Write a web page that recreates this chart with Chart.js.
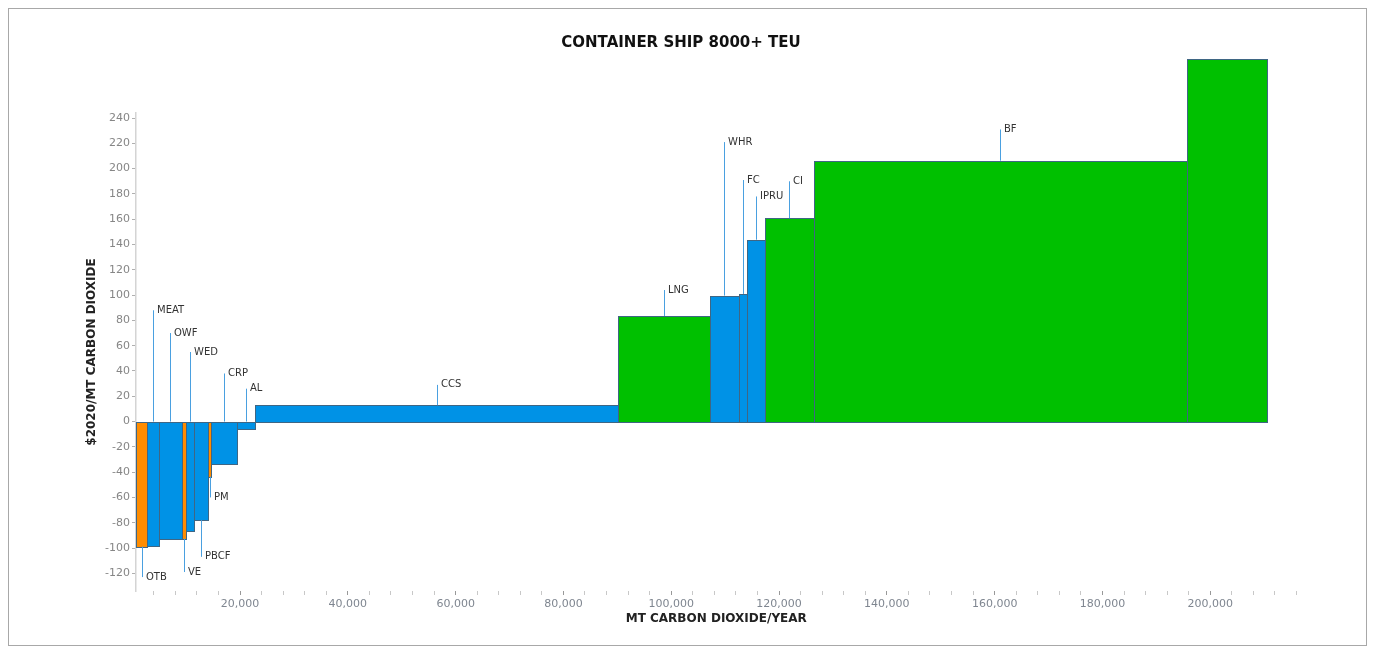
<!DOCTYPE html>
<html>
<head>
<meta charset="utf-8">
<script src="https://cdn.jsdelivr.net/npm/chart.js@4.4.1/dist/chart.umd.min.js"></script>
<style>
body { margin: 0; background: #fff; }
</style>
</head>
<body>
<canvas id="macc" width="1375" height="653"></canvas>
<script>
// abatement measures, left to right along the curve
var measures = ["OTB", "MEAT", "OWF", "VE", "WED", "PBCF", "PM", "CRP", "AL", "CCS", "LNG", "WHR", "FC", "IPRU", "CI", "BF", ""]
// width of each block: MT CO2 abated per year
var abatement = [2050, 2150, 4250, 750, 1550, 2600, 650, 4700, 3400, 67400, 16900, 5500, 1400, 3400, 9000, 69300, 14800]
// height of each block: $2020 per MT CO2
var cost = [-98.9, -98.1, -92.6, -92.6, -86.3, -78, -43.6, -33.5, -6.1, 12.9, 83.5, 99.6, 100.9, 143.8, 160.8, 206.3, 286.7]
var group = ["o", "b", "b", "o", "b", "b", "o", "b", "b", "b", "g", "b", "b", "b", "g", "g", "g"]
// where each callout label sits on the cost axis
var labelAt = [-123, 88, 70, -119, 55, -107, -60, 38, 26, 29, 104, 221, 191, 178, 190, 231, null]
var xStart = 700

var yTicks = [-120, -100, -80, -60, -40, -20, 0, 20, 40, 60, 80, 100, 120, 140, 160, 180, 200, 220, 240]
var xTickStep = 4000
var xLabelStep = 20000

var colors = { o: "#ff8c00", b: "#0092e6", g: "#00c000" }

var frame = {
    id: "frame",
    beforeDraw: function (chart) {
        var ctx = chart.ctx
        ctx.save()
        ctx.fillStyle = "#fff"
        ctx.fillRect(0, 0, chart.width, chart.height)
        ctx.strokeStyle = "#a8a8a8"
        ctx.lineWidth = 1
        ctx.strokeRect(8.5, 8.5, chart.width - 17, chart.height - 16)
        ctx.restore()
    }
}

var maccBars = {
    id: "maccBars",
    afterDatasetsDraw: function (chart) {
        var ctx = chart.ctx
        var xs = chart.scales.x
        var ys = chart.scales.y
        var y0 = Math.round(ys.getPixelForValue(0))
        var left = xStart
        var mids = []
        ctx.save()
        ctx.lineWidth = 1
        for (var i = 0; i < cost.length; i++) {
            var x0 = Math.round(xs.getPixelForValue(left))
            var x1 = Math.round(xs.getPixelForValue(left + abatement[i]))
            var yv = Math.round(ys.getPixelForValue(cost[i]))
            var top = Math.min(y0, yv)
            var h = Math.abs(yv - y0)
            ctx.fillStyle = colors[group[i]]
            ctx.fillRect(x0, top, x1 - x0, h)
            ctx.strokeStyle = "#3f6684"
            ctx.strokeRect(x0 + 0.5, top + 0.5, x1 - x0, h)
            mids.push(xs.getPixelForValue(left + abatement[i] / 2))
            left += abatement[i]
        }

        // callout lines and names
        ctx.font = "10px 'DejaVu Sans'"
        ctx.textAlign = "left"
        ctx.textBaseline = "middle"
        for (var i = 0; i < measures.length; i++) {
            if (labelAt[i] == null) continue
            var from = labelAt[i] > 0 ? Math.max(cost[i], 0) : Math.min(cost[i], 0)
            var lx = Math.round(mids[i]) + 0.5
            var ya = ys.getPixelForValue(from)
            var yb = ys.getPixelForValue(labelAt[i])
            ctx.strokeStyle = "#4aa0e0"
            ctx.beginPath()
            ctx.moveTo(lx, ya)
            ctx.lineTo(lx, yb)
            ctx.stroke()
            ctx.fillStyle = "#333"
            ctx.fillText(measures[i], lx + 3.5, yb)
        }
        ctx.restore()
    }
}

new Chart("macc", {
    type: "scatter",
    data: { datasets: [] },
    plugins: [frame, maccBars],
    options: {
        responsive: false,
        animation: false,
        devicePixelRatio: 1,
        layout: { padding: { left: 0, top: 0, bottom: 0, right: 13 } },
        plugins: {
            legend: { display: false },
            tooltip: { enabled: false },
            title: {
                display: true,
                text: "CONTAINER SHIP 8000+ TEU",
                color: "#111",
                font: { family: "DejaVu Sans", size: 15, weight: "bold" },
                padding: { top: 34, bottom: 61 }
            }
        },
        scales: {
            x: {
                type: "linear",
                position: "bottom",
                min: xStart,
                max: 216000,
                afterBuildTicks: function (s) {
                    var t = []
                    for (var v = xTickStep; v <= 216000; v += xTickStep) t.push({ value: v })
                    s.ticks = t
                },
                afterFit: function (s) { s.height = 62 },
                border: { display: false },
                grid: {
                    drawOnChartArea: false,
                    drawTicks: true,
                    tickLength: 4,
                    tickColor: function (c) { return c.tick && c.tick.value % xLabelStep === 0 ? "#999" : "#c8c8c8" }
                },
                ticks: {
                    autoSkip: false,
                    maxRotation: 0,
                    padding: 3,
                    color: "#7f8690",
                    font: { family: "DejaVu Sans", size: 11 },
                    callback: function (v) { return v % xLabelStep === 0 ? v.toLocaleString("en-US") : "" }
                },
                title: {
                    display: true,
                    text: "MT CARBON DIOXIDE/YEAR",
                    color: "#222",
                    font: { family: "DejaVu Sans", size: 12, weight: "bold" },
                    padding: { top: 0, bottom: 27 }
                }
            },
            y: {
                type: "linear",
                position: "left",
                min: -134,
                max: 244,
                afterBuildTicks: function (s) {
                    s.ticks = yTicks.map(function (v) { return { value: v } })
                },
                afterFit: function (s) { s.width = 136 },
                border: { display: true, color: "#d4d4d4", width: 1.5 },
                grid: {
                    drawOnChartArea: false,
                    drawTicks: true,
                    tickLength: 4,
                    tickColor: "#b0b0b0"
                },
                ticks: {
                    padding: 2,
                    color: "#868686",
                    font: { family: "DejaVu Sans", size: 11 }
                },
                title: {
                    display: true,
                    text: "$2020/MT CARBON DIOXIDE",
                    color: "#222",
                    font: { family: "DejaVu Sans", size: 12, weight: "bold" },
                    padding: { top: 85, bottom: 0 }
                }
            },
            pad: {
                type: "linear",
                position: "right",
                display: true,
                grid: { display: false },
                ticks: { display: false },
                border: { display: false },
                afterFit: function (s) { s.width = 65.5 }
            }
        }
    }
})
</script>
</body>
</html>
